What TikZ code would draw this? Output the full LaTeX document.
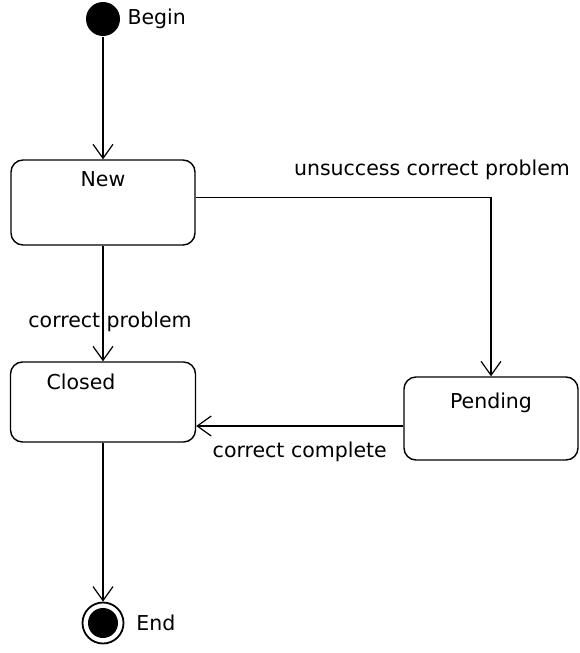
\documentclass[tikz,border=0pt]{standalone}
\usepackage{fontspec}
\setmainfont{DejaVu Sans}
\usetikzlibrary{arrows.meta,positioning}

\begin{document}
\begin{tikzpicture}[x=1pt, y=-1pt, line width=1.2pt, >={Straight Barb[length=14pt,width=20pt]}, font=\fontsize{20.5}{24}\selectfont]
		\useasboundingbox (0,0) rectangle (579,653);
		% states
		\begin{scope}[every node/.style={rectangle,draw,rounded corners=12pt,line width=1.4pt}]
			\node[minimum width=184pt, minimum height=85pt] (new) at (103,202.5) {};
			\node[minimum width=185pt, minimum height=80pt] (closed) at (103,402) {};
			\node[minimum width=174pt, minimum height=83pt] (pending) at (491,418.5) {};
		\end{scope}
		\node[circle,fill,minimum size=34pt,inner sep=0pt] (begin) at (103,19) {};
		\node[circle,draw,line width=1.8pt,minimum size=41pt,inner sep=0pt] (end) at (103,623) {};
		\fill (end.center) circle (15);
		% names
		\node[below=8.5pt of new.north] (newname) {New};
		\node[below=9pt of closed.north, xshift=-22pt] (closedname) {Closed};
		\node[below=13pt of pending.north] (pendingname) {Pending};
		\node[right=3pt of begin.east] (beginname) {Begin};
		\node[right=8pt of end.east] (endname) {End};
		% transitions
		\begin{scope}[every path/.style={->}]
			\path (begin) edge (new);
			\path (new)
			edge node[pos=0.66, xshift=7pt] (lblcp) {correct problem} (closed);
			\draw ([yshift=5pt]new.east) -| node[pos=0.4, above=14pt] (lblucp) {unsuccess correct problem} (pending.north);
			\draw ([yshift=-7.5pt]pending.west) -- node[below=12pt] (lblcc) {correct complete} ([yshift=-7.5pt]pending.west -| closed.east);
			\path (closed) edge (end);
		\end{scope}
	\end{tikzpicture}
\end{document}
